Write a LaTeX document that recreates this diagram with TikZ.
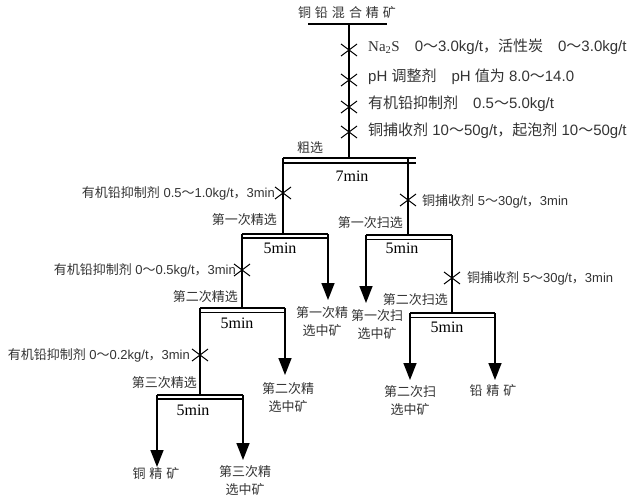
\documentclass[tikz,border=0pt]{standalone}
\usepackage{fontspec}
\setmainfont{Liberation Sans}
\newfontfamily\cjk{Noto Sans CJK SC}
\newfontfamily\tnr{Liberation Serif}
\usetikzlibrary{arrows.meta,calc}
\newcommand{\zh}[1]{{\cjk #1}}
\begin{document}
\begin{tikzpicture}[x=1pt,y=-1pt,
	flow/.style={line width=1.6pt},
	prodarrow/.style={line width=1.6pt,-{Triangle[length=17pt,width=13pt]}},
	bartop/.style={line width=2.2pt},
	barlow/.style={line width=1.2pt},
	dosemark/.style={line width=1pt},
	lbl/.style={font=\fontsize{13}{15}\selectfont,text=black!80,inner sep=0pt},
	toplbl/.style={font=\fontsize{15}{17}\selectfont,text=black!80,inner sep=0pt},
	stage/.style={font=\cjk\fontsize{13}{15}\selectfont,text=black!80,inner sep=0pt},
	prod/.style={font=\cjk\fontsize{13}{18}\selectfont,text=black!80,inner sep=0pt,align=center},
	timelbl/.style={font=\tnr\fontsize{16}{17}\selectfont,inner sep=0pt}]
	\useasboundingbox (0,0) rectangle (643,500);
	%feed and reagents
	\coordinate (f0) at (308,24);
	\coordinate (f1) at (387,24);
	\coordinate (ftop) at (349,24);
	\coordinate (d1) at (349,50);
	\coordinate (d2) at (349,80);
	\coordinate (d3) at (349,107);
	\coordinate (d4) at (349,132);
	%bars
	\coordinate (rl) at (283,158);
	\coordinate (rr) at (416,158);
	\coordinate (rm) at (349,158);
	\coordinate (c1l) at (242,234);
	\coordinate (c1r) at (328,234);
	\coordinate (c2l) at (200,308);
	\coordinate (c2r) at (285,308);
	\coordinate (c3l) at (157,395);
	\coordinate (c3r) at (243,395);
	\coordinate (s1l) at (366,235);
	\coordinate (s1r) at (452,235);
	\coordinate (s1t) at (408,235);
	\coordinate (s2l) at (410,313);
	\coordinate (s2r) at (495,313);
	%dosing points
	\coordinate (e1) at (283,193);
	\coordinate (e2) at (242,270);
	\coordinate (e3) at (200,355);
	\coordinate (g1) at (408,200);
	\coordinate (g2) at (452,278);
	%arrow tips
	\coordinate (t1) at (328,300);
	\coordinate (t2) at (285,375);
	\coordinate (t3) at (157,467);
	\coordinate (t4) at (243,460);
	\coordinate (t5) at (366,303);
	\coordinate (t6) at (410,380);
	\coordinate (t7) at (495,380);
	\node[stage] (feed) at (347,13) {铜\hspace{4pt}铅\hspace{4pt}混\hspace{4pt}合\hspace{4pt}精\hspace{4pt}矿};
	\draw[flow] (f0) -- (f1);
	\draw[flow] (ftop) -- (rm);
	\foreach \d in {d1,d2,d3,d4,e1,e2,e3,g1,g2}
		\draw[dosemark,shift={(\d)}] (-8,-6) -- (8,6) (-8,6) -- (8,-6);
	\node[toplbl,anchor=west] (r1) at (368,47) {{\tnr Na\textsubscript{2}S}\hspace{1em}0\zh{～}3.0kg/t\zh{，活性炭}\hspace{1em}0\zh{～}3.0kg/t};
	\node[toplbl,anchor=west] (r2) at (368,77) {pH \zh{调整剂}\hspace{1em}pH \zh{值为} 8.0\zh{～}14.0};
	\node[toplbl,anchor=west] (r3) at (368,104) {\zh{有机铅抑制剂}\hspace{1em}0.5\zh{～}5.0kg/t};
	\node[toplbl,anchor=west] (r4) at (368,131) {\zh{铜捕收剂} 10\zh{～}50g/t\zh{，起泡剂} 10\zh{～}50g/t};
	%rougher
	\node[stage] (rough) at (310,148) {粗选};
	\draw[bartop] (rl) -- (rr);
	\draw[barlow] ($(rl)+(0,5)$) -- ($(rr)+(0,5)$);
	\node[timelbl] (rt) at (352,176) {7min};
	\draw[flow] (rl) -- (c1r -| rl);
	\draw[flow] (s1t |- rr) -- (s1t);
	%cleaners
	\node[lbl,anchor=east] (q1) at (275,193) {\zh{有机铅抑制剂} 0.5\zh{～}1.0kg/t\zh{，}3min};
	\node[stage,anchor=east] (cl1) at (277,220) {第一次精选};
	\draw[bartop] (c1l) -- (c1r);
	\draw[barlow] ($(c1l)+(0,4)$) -- ($(c1r)+(0,4)$);
	\node[timelbl] (ct1) at (280,248) {5min};
	\draw[flow] (c1l) -- (c2r -| c1l);
	\draw[prodarrow] (c1r) -- (t1);
	\node[prod] (m1) at (322,322) {第一次精\\选中矿};
	\node[lbl,anchor=east] (q2) at (236,270) {\zh{有机铅抑制剂} 0\zh{～}0.5kg/t\zh{，}3min};
	\node[stage,anchor=east] (cl2) at (238,297) {第二次精选};
	\draw[bartop] (c2l) -- (c2r);
	\draw[barlow] ($(c2l)+(0,4.5)$) -- ($(c2r)+(0,4.5)$);
	\node[timelbl] (ct2) at (237,323) {5min};
	\draw[flow] (c2l) -- (c3r -| c2l);
	\draw[prodarrow] (c2r) -- (t2);
	\node[prod] (m2) at (288,398) {第二次精\\选中矿};
	\node[lbl,anchor=east] (q3) at (190,355) {\zh{有机铅抑制剂} 0\zh{～}0.2kg/t\zh{，}3min};
	\node[stage,anchor=east] (cl3) at (197,383) {第三次精选};
	\draw[bartop] (c3l) -- (c3r);
	\draw[barlow] ($(c3l)+(0,4)$) -- ($(c3r)+(0,4)$);
	\node[timelbl] (ct3) at (193,410) {5min};
	\draw[prodarrow] (c3l) -- (t3);
	\draw[prodarrow] (c3r) -- (t4);
	\node[stage] (cu) at (156,474) {铜\hspace{4pt}精\hspace{4pt}矿};
	\node[prod] (m3) at (245,481) {第三次精\\选中矿};
	%scavengers
	\node[lbl,anchor=west] (p1) at (422,201) {\zh{铜捕收剂} 5\zh{～}30g/t\zh{，}3min};
	\node[stage,anchor=east] (sc1) at (403,223) {第一次扫选};
	\draw[bartop] (s1l) -- (s1r);
	\draw[barlow] ($(s1l)+(0,4.5)$) -- ($(s1r)+(0,4.5)$);
	\node[timelbl] (st1) at (402,248) {5min};
	\draw[prodarrow] (s1l) -- (t5);
	\draw[flow] (s1r) -- (s2l -| s1r);
	\node[prod] (v1) at (377,325) {第一次扫\\选中矿};
	\node[lbl,anchor=west] (p2) at (467,278) {\zh{铜捕收剂} 5\zh{～}30g/t\zh{，}3min};
	\node[stage,anchor=east] (sc2) at (448,300) {第二次扫选};
	\draw[bartop] (s2l) -- (s2r);
	\draw[barlow] ($(s2l)+(0,4.5)$) -- ($(s2r)+(0,4.5)$);
	\node[timelbl] (st2) at (447,327) {5min};
	\draw[prodarrow] (s2l) -- (t6);
	\draw[prodarrow] (s2r) -- (t7);
	\node[prod] (v2) at (410,401) {第二次扫\\选中矿};
	\node[stage] (pb) at (493,391) {铅\hspace{4pt}精\hspace{4pt}矿};
\end{tikzpicture}
\end{document}
